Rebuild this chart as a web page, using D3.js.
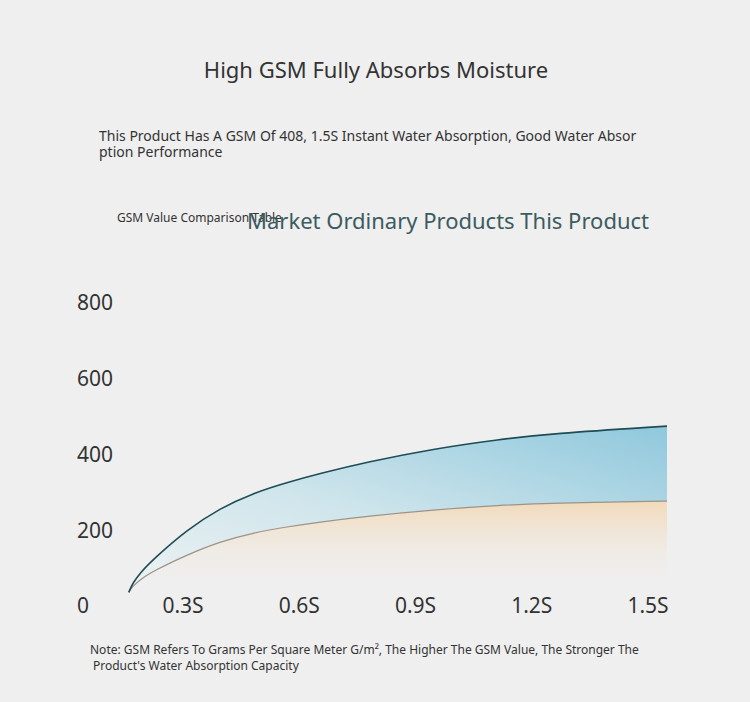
<!DOCTYPE html>
<html>
<head>
<meta charset="utf-8">
<script src="https://cdn.jsdelivr.net/npm/d3@7"></script>
<style>
  body { margin: 0; background: #efefef; }
  svg { display: block; font-family: "Noto Sans", "Open Sans", sans-serif; }
</style>
</head>
<body>
<div id="chart"></div>
<script>
// time points (seconds) shared by both curves
const times = [0.160, 0.170, 0.190, 0.223, 0.310, 0.395, 0.481, 0.568, 0.654, 0.774, 0.946, 1.118, 1.247, 1.549];
// GSM readings
const productGSM = [36, 60, 88, 123, 201, 258, 298, 326, 350, 380, 415, 440, 455, 475];
const marketGSM  = [36, 52, 70, 92, 135, 170, 193, 209, 222, 237, 254, 266, 272, 277];
// axis ticks
const yTicks = [0, 200, 400, 600, 800];
const xTicks = [0.3, 0.6, 0.9, 1.2, 1.5];
const seriesNames = ["Market Ordinary Products", "This Product"];

const width = 750, height = 702;

const svg = d3.select("#chart").append("svg")
  .attr("width", width)
  .attr("height", height);

svg.append("rect").attr("width", width).attr("height", height).attr("fill", "#efefef");

const x = d3.scaleLinear().domain([0, 1.5]).range([66.75, 648]);
const y = d3.scaleLinear().domain([0, 800]).range([606, 303]);

const rows = times.map((t, i) => ({ t: t, product: productGSM[i], market: marketGSM[i] }));

// gradients
const defs = svg.append("defs");
const blue = defs.append("linearGradient").attr("id", "blueFill")
  .attr("x1", 0).attr("y1", 1).attr("x2", 1).attr("y2", 0);
blue.append("stop").attr("offset", "0%").attr("stop-color", "#eef2f2");
blue.append("stop").attr("offset", "45%").attr("stop-color", "#cfe5ec");
blue.append("stop").attr("offset", "100%").attr("stop-color", "#8fc8dc");

const peach = defs.append("linearGradient").attr("id", "peachFill")
  .attr("gradientUnits", "userSpaceOnUse")
  .attr("x1", 0).attr("y1", y(280)).attr("x2", 0).attr("y2", y(40));
peach.append("stop").attr("offset", "0%").attr("stop-color", "#f2d9b8");
peach.append("stop").attr("offset", "100%").attr("stop-color", "#efefef").attr("stop-opacity", 0);

const curve = d3.curveBasis;

// area below market line
svg.append("path")
  .datum(rows)
  .attr("d", d3.area().curve(curve)
    .x(d => x(d.t))
    .y0(d => y(Math.min(d.market, 36)))
    .y1(d => y(d.market)))
  .attr("fill", "url(#peachFill)");

// area between curves
svg.append("path")
  .datum(rows)
  .attr("d", d3.area().curve(curve)
    .x(d => x(d.t))
    .y0(d => y(d.market))
    .y1(d => y(d.product)))
  .attr("fill", "url(#blueFill)");

// lines
svg.append("path")
  .datum(rows)
  .attr("d", d3.line().curve(curve).x(d => x(d.t)).y(d => y(d.market)))
  .attr("fill", "none")
  .attr("stroke", "#9c9288")
  .attr("stroke-width", 1.2);

svg.append("path")
  .datum(rows)
  .attr("d", d3.line().curve(curve).x(d => x(d.t)).y(d => y(d.product)))
  .attr("fill", "none")
  .attr("stroke", "#1e4d55")
  .attr("stroke-width", 1.6);

// y axis labels
svg.append("g").selectAll("text")
  .data(yTicks)
  .join("text")
  .attr("x", 77)
  .attr("y", d => y(d))
  .attr("dy", "0.35em")
  .attr("font-size", 21)
  .attr("fill", "#333")
  .text(d => d);

// x axis labels
svg.append("g").selectAll("text")
  .data(xTicks)
  .join("text")
  .attr("x", d => x(d))
  .attr("y", 606)
  .attr("dy", "0.35em")
  .attr("text-anchor", "middle")
  .attr("font-size", 21)
  .attr("fill", "#333")
  .text(d => d.toFixed(1) + "S");

// texts
svg.append("text")
  .attr("x", 376).attr("y", 78)
  .attr("text-anchor", "middle")
  .attr("font-size", 22)
  .attr("fill", "#333")
  .text("High GSM Fully Absorbs Moisture");

svg.append("text")
  .attr("x", 99).attr("y", 141)
  .attr("font-size", 14)
  .attr("fill", "#333")
  .text("This Product Has A GSM Of 408, 1.5S Instant Water Absorption, Good Water Absor");
svg.append("text")
  .attr("x", 99).attr("y", 157)
  .attr("font-size", 14)
  .attr("fill", "#333")
  .text("ption Performance");

svg.append("text")
  .attr("x", 117).attr("y", 222)
  .attr("font-size", 12)
  .attr("fill", "#333")
  .text("GSM Value Comparison Table");

svg.append("text")
  .attr("x", 247).attr("y", 229)
  .attr("font-size", 22)
  .attr("fill", "#3b5b60")
  .text(seriesNames.join(" "));

svg.append("text")
  .attr("x", 90).attr("y", 654)
  .attr("font-size", 12)
  .attr("fill", "#333")
  .text("Note: GSM Refers To Grams Per Square Meter G/m², The Higher The GSM Value, The Stronger The");
svg.append("text")
  .attr("x", 93).attr("y", 670)
  .attr("font-size", 12)
  .attr("fill", "#333")
  .text("Product's Water Absorption Capacity");
</script>
</body>
</html>
